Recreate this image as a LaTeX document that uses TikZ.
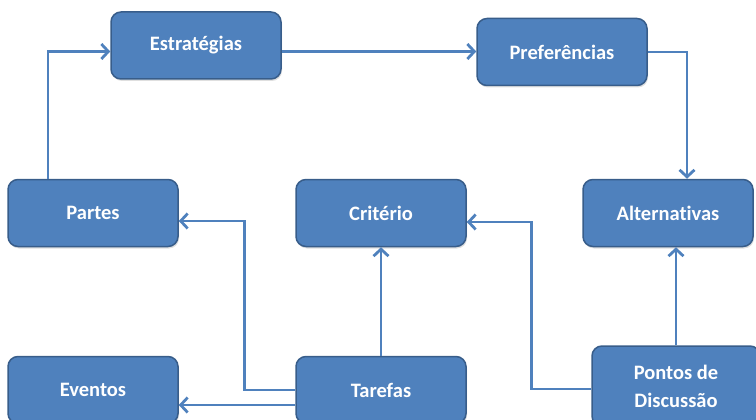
\documentclass[tikz,border=0pt]{standalone}
\usepackage{fontspec}
\setmainfont{Carlito}[Ligatures=NoCommon]
\usetikzlibrary{arrows.meta,shadows}
\definecolor{boxblue}{HTML}{4F81BD}
\definecolor{boxedge}{HTML}{385D8A}
\def\NegotiationBoxes{
    \node[box] (estrategias) at (196,45.5) {Estratégias};
    \node[box] (preferencias) at (562,52) {Preferências};
    \node[box] (partes) at (93,213) {Partes};
    \node[box] (criterio) at (381,213) {Critério};
    \node[box] (alternativas) at (668,213) {Alternativas};
    \node[box] (eventos) at (93,390) {Eventos};
    \node[box] (tarefas) at (381,390) {Tarefas};
    \node[box, minimum width=168pt, minimum height=80pt] (pontos) at (676,386) {Pontos de\\Discussão};
}

\begin{document}
\begin{tikzpicture}[x=1pt,y=-1pt,
    box/.style={draw=boxedge, fill=boxblue, line width=1.5pt, rounded corners=10pt,
        minimum width=170pt, minimum height=67pt, text=white, align=center,
        font=\bfseries\fontsize{20.5}{28}\selectfont,
        drop shadow={opacity=0.25, shadow xshift=1pt, shadow yshift=-2pt}},
    link/.style={boxblue, line width=2.8pt, -{Straight Barb[length=7pt,width=15pt]}}]
    \clip (0,0) rectangle (756,420);
    \NegotiationBoxes
    \draw[link] ([xshift=-45pt]partes.north) |- ([yshift=-6pt]estrategias.west);
    \draw[link] ([yshift=-6pt]estrategias.east) -- ([yshift=-6pt]estrategias.east -| preferencias.west);
    \draw[link] (preferencias.east) -| ([xshift=19pt]alternativas.north);
    \draw[link] (pontos.north) -- (pontos.north |- alternativas.south);
    \draw[link] ([yshift=-3pt]pontos.west) -- ++(-60,0) |- ([yshift=-9pt]criterio.east);
    \draw[link] (tarefas.north) -- (criterio.south);
    \draw[link] (tarefas.west) -- ++(-51,0) |- ([yshift=-8pt]partes.east);
    \draw[link] ([yshift=-15pt]tarefas.west) -- ([yshift=-15pt]tarefas.west -| eventos.east);
\end{tikzpicture}
\end{document}
